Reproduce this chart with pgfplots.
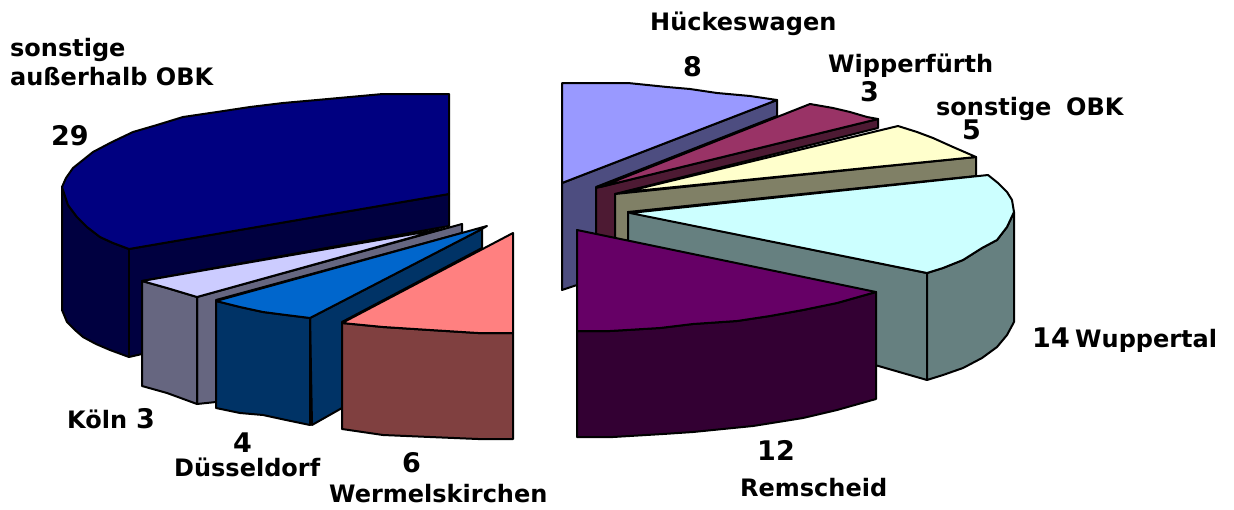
\documentclass[border=0pt]{standalone}
\usepackage{fontspec}
\setmainfont{DejaVu Sans}
\usepackage{pgfplots}
\pgfplotsset{compat=1.18}
\definecolor{c1t}{HTML}{000080}\definecolor{c1s}{HTML}{000040}
\definecolor{c2t}{HTML}{CCCCFF}\definecolor{c2s}{HTML}{666680}
\definecolor{c3t}{HTML}{0066CC}\definecolor{c3s}{HTML}{003366}
\definecolor{c4t}{HTML}{FF8080}\definecolor{c4s}{HTML}{804040}
\definecolor{c5t}{HTML}{9999FF}\definecolor{c5s}{HTML}{4D4D80}
\definecolor{c6t}{HTML}{993366}\definecolor{c6s}{HTML}{4D1A33}
\definecolor{c7t}{HTML}{FFFFCC}\definecolor{c7s}{HTML}{808066}
\definecolor{c8t}{HTML}{CCFFFF}\definecolor{c8s}{HTML}{668080}
\definecolor{c9t}{HTML}{660066}\definecolor{c9s}{HTML}{330033}
\pgfplotsset{
  sl/.style={draw=black,line width=2pt,line join=round,fill=#1,mark=none,forget plot}
}
\tikzset{
  lab/.style={font=\fontsize{24}{28}\selectfont\bfseries,anchor=base west,inner sep=0pt,text=black},
  num/.style={font=\fontsize{27}{30}\selectfont\bfseries,anchor=base west,inner sep=0pt,text=black}
}
\begin{document}
\begin{tikzpicture}
\begin{axis}[
  hide axis,scale only axis,width=1234pt,height=509pt,
  xmin=0,xmax=1234,ymin=0,ymax=509,y dir=reverse,clip=false]
\path (axis cs:0,0) rectangle (axis cs:1234,509);
% sonstige ausserhalb OBK (29)
\addplot[sl=c1s] coordinates {(62,187)(62,310)(67,322)(75,330)(83,337)(96,344)(110,350)(129,357)(142,354)(142,281)(449,226)(449,194)(129,249)(113,243)(100,237)(87,227)(77,217)(68,205)} --cycle;
\addplot[sl=c1s] coordinates {(129,249)(129,357)} ;
\addplot[sl=c1t] coordinates {(449,94)(449,194)(129,249)(113,243)(100,237)(87,227)(77,217)(68,205)(62,187)(66,178)(73,168)(83,160)(93,152)(112,142)(133,132)(157,125)(183,117)(217,112)(250,107)(283,103)(317,100)(350,97)(383,94)} --cycle;
% Koeln (3)
\addplot[sl=c2s] coordinates {(197,297)(462,224)(462,233)(216,300)(216,402)(197,404)} --cycle;
\addplot[sl=c2s] coordinates {(142,281)(167,288)(197,297)(197,404)(167,393)(142,386)} --cycle;
\addplot[sl=c2t] coordinates {(142,281)(442,229)(197,297)(167,288)} --cycle;
% Duesseldorf (4)
\addplot[sl=c3s] coordinates {(310,318)(482,229)(482,248)(342,322)(342,408)(312,425)} --cycle;
\addplot[sl=c3s] coordinates {(216,301)(240,307)(263,312)(286,315)(310,318)(310,425)(286,420)(263,415)(240,413)(216,408)} --cycle;
\addplot[sl=c3t] coordinates {(216,301)(487,226)(480,230)(310,318)(286,315)(263,312)(240,307)} --cycle;
% Wermelskirchen (6)
\addplot[sl=c4s] coordinates {(342,323)(383,327)(430,330)(478,333)(513,333)(513,439)(478,439)(430,437)(383,435)(342,429)} --cycle;
\addplot[sl=c4t] coordinates {(342,323)(513,233)(513,333)(478,333)(430,330)(383,327)} --cycle;
% Hueckeswagen (8)
\addplot[sl=c5s] coordinates {(562,183)(777,100)(777,116)(596,187)(596,240)(577,285)(562,290)} --cycle;
\addplot[sl=c5t] coordinates {(562,83)(628,83)(667,87)(690,89)(717,93)(750,96)(777,100)(562,183)} --cycle;
% Wipperfuerth (3)
\addplot[sl=c6s] coordinates {(596,188)(878,119)(878,128)(615,194)(615,240)(596,240)} --cycle;
\addplot[sl=c6t] coordinates {(600,187)(810,104)(833,108)(850,112)(867,117)(878,119)} --cycle;
% sonstige OBK (5)
\addplot[sl=c7s] coordinates {(615,194)(976,157)(976,176)(628,212)(628,245)(615,245)} --cycle;
\addplot[sl=c7t] coordinates {(625,192)(898,126)(917,132)(933,138)(953,147)(976,157)} --cycle;
% Wuppertal (14)
\addplot[sl=c8s] coordinates {(628,212)(927,273)(927,380)(875,365)(875,300)(628,245)} --cycle;
\addplot[sl=c8s] coordinates {(927,273)(943,268)(963,260)(982,248)(997,240)(1007,227)(1014,212)(1014,322)(1007,335)(997,347)(982,358)(963,368)(943,375)(927,380)} --cycle;
\addplot[sl=c8t] coordinates {(630,213)(988,175)(998,183)(1007,192)(1012,200)(1014,212)(1007,227)(997,240)(982,248)(963,260)(943,268)(927,273)} --cycle;
% Remscheid (12)
\addplot[sl=c9s] coordinates {(577,331)(610,331)(660,328)(693,324)(737,321)(770,316)(803,310)(837,303)(876,292)(876,399)(837,410)(803,418)(753,426)(693,432)(663,434)(613,437)(577,437)} --cycle;
\addplot[sl=c9t] coordinates {(577,230)(876,292)(837,303)(803,310)(770,316)(737,321)(693,324)(660,328)(610,331)(577,331)} --cycle;
% labels
\node[lab] at (axis cs:10,56) {sonstige};
\node[lab] at (axis cs:10,85) {außerhalb OBK};
\node[num] at (axis cs:51,145) {29};
\node[lab] at (axis cs:650,30) {Hückeswagen};
\node[num] at (axis cs:683,76) {8};
\node[lab] at (axis cs:828,72) {Wipperfürth};
\node[num] at (axis cs:860,101) {3};
\node[lab] at (axis cs:936,115) {sonstige};
\node[lab] at (axis cs:1066,115) {OBK};
\node[num] at (axis cs:962,139) {5};
\node[num] at (axis cs:1032,347) {14};
\node[lab] at (axis cs:1075,347) {Wuppertal};
\node[num] at (axis cs:757,460) {12};
\node[lab] at (axis cs:740,496) {Remscheid};
\node[num] at (axis cs:402,472) {6};
\node[lab] at (axis cs:329,502) {Wermelskirchen};
\node[lab] at (axis cs:174,476) {Düsseldorf};
\node[num] at (axis cs:233,452) {4};
\node[lab] at (axis cs:67,428) {Köln};
\node[num] at (axis cs:136,428) {3};
\end{axis}
\end{tikzpicture}
\end{document}
